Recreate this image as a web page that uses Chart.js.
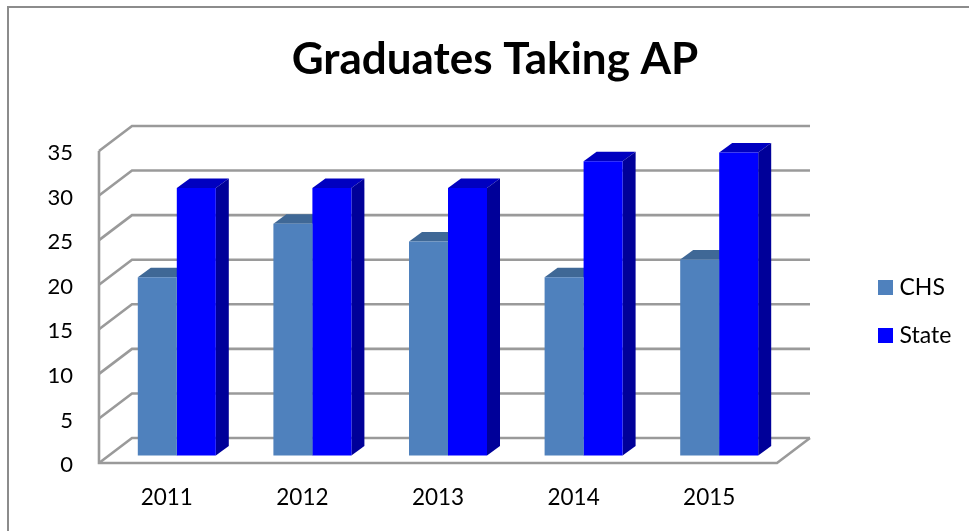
<!DOCTYPE html>
<html><head><meta charset="utf-8">
<style>html,body{margin:0;padding:0;background:#fff}#w{position:relative;width:969px;height:531px}canvas{display:block}</style>
<script src="https://cdn.jsdelivr.net/npm/chart.js@4"></script></head>
<body><div id="w"><canvas id="c" width="969" height="531"></canvas></div>
<script>
const categories = ['2011','2012','2013','2014','2015'];
const chsValues = [20,26,24,20,22];
const stateValues = [30,30,30,33,34];
const titleText = 'Graduates Taking AP';
const gridColor = '#9a9a9a';
const FONT = 'Lato, Carlito, "Open Sans", sans-serif';
const wall = {dx:33, dy:-25};
const barShift = {dx:10, dy:-7.5};
const depth = {dx:13, dy:-9.5};
const shades = [{top:'#3f6896', side:'#3f6896'},{top:'#0000c0', side:'#000099'}];

function poly(ctx, pts, fill){
  ctx.beginPath(); pts.forEach((p,i)=> i?ctx.lineTo(p[0],p[1]):ctx.moveTo(p[0],p[1]));
  ctx.closePath(); ctx.fillStyle=fill; ctx.fill();
}
const plugin3d = {
  id:'plugin3d',
  afterLayout(chart){
    const t = chart.titleBlock; t.left = 21; t.right = 969;
    const l = chart.legend, p = l.options.labels.padding;
    l.left = 883-p; l.top = 276-p;
    l.right = l.left + 200; l.bottom = l.top + 240;
  },
  beforeDraw(chart){
    const c = chart.ctx;
    c.save(); c.fillStyle='#fff'; c.fillRect(0,0,chart.width,chart.height);
    c.strokeStyle='#8c8c8c'; c.lineWidth=2;
    c.beginPath(); c.moveTo(8,531); c.lineTo(8,7); c.lineTo(969,7); c.stroke();
    c.restore();
  },
  beforeDatasetsDraw(chart){
    const c = chart.ctx, a = chart.chartArea, y = chart.scales.y;
    c.save();
    c.strokeStyle=gridColor; c.lineWidth=2.6; c.lineJoin='miter';
    y.ticks.forEach(t=>{
      const py = y.getPixelForValue(t.value);
      c.beginPath(); c.moveTo(a.left,py); c.lineTo(a.left+wall.dx,py+wall.dy); c.lineTo(a.right+wall.dx,py+wall.dy); c.stroke();
    });
    const y0 = y.getPixelForValue(0), yt = y.getPixelForValue(y.max);
    c.beginPath(); c.moveTo(a.left,yt); c.lineTo(a.left,y0); c.lineTo(a.right,y0); c.lineTo(a.right+wall.dx,y0+wall.dy); c.stroke();
    c.restore();
    c.save();
    c.translate(barShift.dx, barShift.dy);
    chart.data.datasets.forEach((d,di)=>{
      chart.getDatasetMeta(di).data.forEach(el=>{
        const p = el.getProps(['x','y','base','width'],true);
        const L=p.x-p.width/2, R=p.x+p.width/2;
        poly(c,[[L,p.y],[L+depth.dx,p.y+depth.dy],[R+depth.dx,p.y+depth.dy],[R,p.y]],shades[di].top);
        poly(c,[[R,p.y],[R+depth.dx,p.y+depth.dy],[R+depth.dx,p.base+depth.dy],[R,p.base]],shades[di].side);
      });
    });
  },
  afterDatasetsDraw(chart){ chart.ctx.restore(); }
};

new Chart(document.getElementById('c'),{
  type:'bar',
  data:{labels:categories,datasets:[
    {label:'CHS',data:chsValues,backgroundColor:'#4f81bd',borderWidth:0,clip:false},
    {label:'State',data:stateValues,backgroundColor:'#0000ff',borderWidth:0,clip:false}
  ]},
  plugins:[plugin3d],
  options:{
    responsive:false,animation:false,
    layout:{padding:{left:0,right:192,top:0,bottom:0}},
    datasets:{bar:{categoryPercentage:78/135.6,barPercentage:1}},
    plugins:{
      tooltip:{enabled:false},
      title:{display:true,text:titleText,color:'#000',font:{family:FONT,size:44,weight:'bold'},padding:{top:33,bottom:65.2}},
      legend:{position:'chartArea',align:'start',labels:{
        color:'#000',font:{family:FONT,size:23},boxWidth:5,boxHeight:5,padding:25,
        generateLabels(chart){
          return Chart.defaults.plugins.legend.labels.generateLabels(chart).map(i=>({...i,lineWidth:10,strokeStyle:i.fillStyle}));
        }
      }}
    },
    scales:{
      x:{grid:{display:false},border:{display:false},
        ticks:{color:'#000',font:{family:FONT,size:22.5},padding:13,maxRotation:0},
        afterFit(s){s.height=68;}},
      y:{min:0,max:35,grid:{display:false,drawTicks:false},border:{display:false},
        ticks:{stepSize:5,color:'#000',font:{family:FONT,size:22},padding:26,labelOffset:2},
        afterFit(s){s.width=99;}}
    }
  }
});
</script></body></html>
